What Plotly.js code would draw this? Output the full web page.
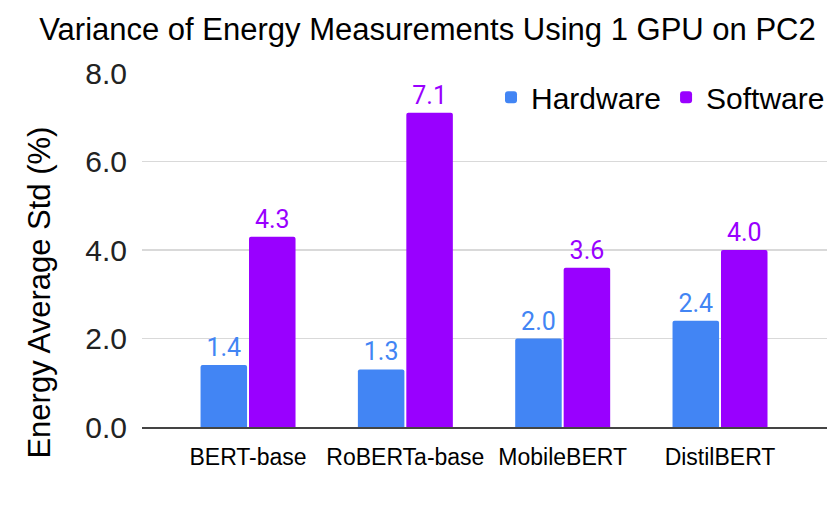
<!DOCTYPE html>
<html>
<head>
<meta charset="utf-8">
<script src="https://cdn.plot.ly/plotly-3.0.1.min.js"></script>
<style>html,body{margin:0;padding:0;background:#fff;}#chart{width:830px;height:527px;}</style>
</head>
<body>
<div id="chart"></div>
<script>
const categories = ["BERT-base", "RoBERTa-base", "MobileBERT", "DistilBERT"];
const hardware = [1.4, 1.3, 2.0, 2.4];
const software = [4.3, 7.1, 3.6, 4.0];
const yTicks = [0, 2, 4, 6, 8];

const blue = "#4285F4";
const purple = "#9900FF";

const traces = [
  {
    type: "bar", name: "Hardware", x: categories, y: hardware,
    marker: {color: blue, cornerradius: 2},
    text: hardware.map(v => v.toFixed(1)), textposition: "outside",
    textfont: {family: "Roboto, sans-serif", size: 25, color: blue},
    cliponaxis: false, hoverinfo: "skip"
  },
  {
    type: "bar", name: "Software", x: categories, y: software,
    marker: {color: purple, cornerradius: 2},
    text: software.map(v => v.toFixed(1)), textposition: "outside",
    textfont: {family: "Roboto, sans-serif", size: 25, color: purple},
    cliponaxis: false, hoverinfo: "skip"
  }
];

const layout = {
  width: 830, height: 527,
  margin: {l: 142, r: 0, t: 73, b: 100},
  paper_bgcolor: "#fff", plot_bgcolor: "#fff",
  font: {family: "Liberation Sans, Arial, sans-serif", color: "#000"},
  title: {text: "Variance of Energy Measurements Using 1 GPU on PC2",
          font: {size: 31, color: "#000"}, x: 0.515, xanchor: "center", y: 0.945, yanchor: "middle"},
  barmode: "group", bargap: 0.384, bargroupgap: 0.04,
  showlegend: true,
  legend: {orientation: "h", x: 1.005, xanchor: "right", y: 1.005, yanchor: "top",
           font: {size: 30, color: "#000"}, bgcolor: "rgba(0,0,0,0)", itemwidth: 30, traceorder: "normal"},
  xaxis: {type: "category", range: [-0.674, 3.68], showgrid: false, zeroline: false,
          showline: true, linecolor: "#444", linewidth: 2,
          ticks: "", tickfont: {size: 23, color: "#000"}, ticklabelstandoff: 8, fixedrange: true},
  yaxis: {range: [0, 8], tickvals: yTicks, ticktext: yTicks.map(v => v.toFixed(1)),
          showgrid: true, gridcolor: "#d9d9d9", gridwidth: 1.5, zeroline: false, showline: false,
          ticks: "", tickfont: {size: 30, color: "#222"}, ticklabelstandoff: 14, fixedrange: true},
  annotations: [{
    text: "Energy Average Std (%)", textangle: -90, xref: "paper", yref: "paper",
    x: -0.1497, y: 0.381, xanchor: "center", yanchor: "middle", showarrow: false,
    font: {size: 31, color: "#000"}
  }]
};

Plotly.newPlot("chart", traces, layout, {staticPlot: true, displayModeBar: false});
</script>
</body>
</html>
